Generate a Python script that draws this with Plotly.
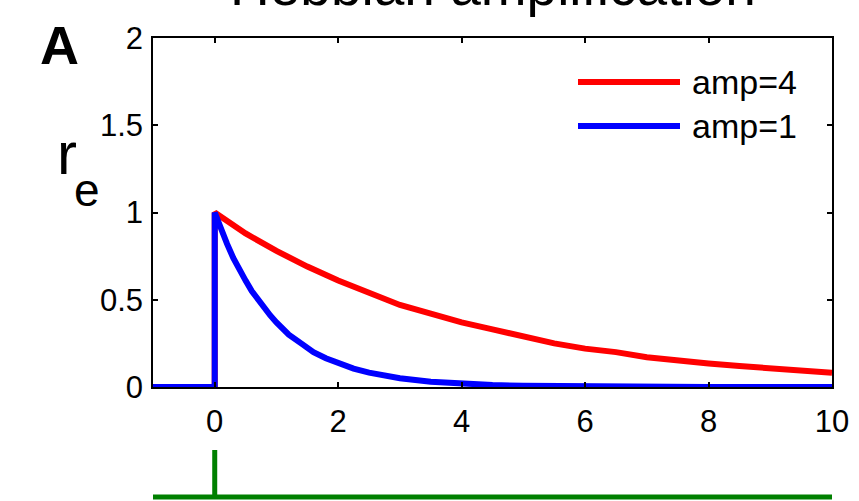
import plotly.graph_objects as go

# ---- data ----
t_amp1 = [-1, 0, 0, 0.1, 0.2, 0.3, 0.4, 0.5, 0.6, 0.7, 0.8, 0.9, 1, 1.2, 1.4, 1.6, 1.8, 2,
          2.25, 2.5, 2.75, 3, 3.5, 4, 4.5, 5, 6, 7, 8, 10]
r_amp1 = [0, 0, 1, 0.905, 0.82, 0.74, 0.67, 0.61, 0.55, 0.50, 0.45, 0.41, 0.37, 0.30, 0.25,
          0.20, 0.165, 0.135, 0.105, 0.082, 0.064, 0.05, 0.03, 0.018, 0.011, 0.007, 0.0025,
          0.001, 0.0003, 0]

t_amp4 = [-1, 0, 0, 0.5, 1, 1.5, 2, 2.5, 3, 3.5, 4, 4.5, 5, 5.5, 6, 6.5, 7, 7.5, 8, 8.5, 9,
          9.5, 10]
r_amp4 = [0, 0, 1, 0.88, 0.78, 0.69, 0.61, 0.54, 0.47, 0.42, 0.37, 0.33, 0.29, 0.25, 0.22,
          0.20, 0.17, 0.15, 0.135, 0.12, 0.105, 0.093, 0.082]

t_input = [-1, 0, 0, 0, 10]
v_input = [0, 0, 1, 0, 0]

x_ticks = [0, 2, 4, 6, 8, 10]
y_ticks = [0, 0.5, 1, 1.5, 2]
y_ticktext = ["0", "0.5", "1", "1.5", "2"]

legend_labels = ["amp=4", "amp=1"]

# ---- layout geometry ----
W, H = 859, 501
ML, MR, MT, MB = 153, 27, 38, 0
PW, PH = W - ML - MR, H - MT - MB


def px_x(px):
    return (px - ML) / PW


def px_y(py):
    return (H - MB - py) / PH


FONT = "Liberation Sans, Arial, Helvetica, sans-serif"
RED = "#ff0000"
BLUE = "#0000ff"
GREEN = "#008000"

fig = go.Figure()
fig.add_trace(go.Scatter(x=t_amp4, y=r_amp4, mode="lines", line=dict(color=RED, width=6),
                         showlegend=False, xaxis="x", yaxis="y"))
fig.add_trace(go.Scatter(x=t_amp1, y=r_amp1, mode="lines", line=dict(color=BLUE, width=6),
                         showlegend=False, xaxis="x", yaxis="y"))
fig.add_trace(go.Scatter(x=t_input, y=v_input, mode="lines", line=dict(color=GREEN, width=5),
                         showlegend=False, xaxis="x2", yaxis="y2", cliponaxis=False))

main_bottom = px_y(387)
fig.update_layout(
    template="none",
    width=W, height=H, autosize=False,
    margin=dict(l=ML, r=MR, t=MT, b=MB, pad=0, autoexpand=False),
    paper_bgcolor="white", plot_bgcolor="white",
    font=dict(family=FONT, color="black", size=31),
    xaxis=dict(domain=[0, 1], range=[-1, 10], tickvals=x_ticks, ticks="inside", ticklen=5,
               tickwidth=1.5, tickcolor="black", showline=True, linecolor="black", linewidth=1.5,
               mirror="ticks", showgrid=False, zeroline=False, anchor="y", automargin=False,
               tickfont=dict(size=31, family=FONT), ticklabelstandoff=6),
    yaxis=dict(domain=[main_bottom, 1], range=[0, 2], tickvals=y_ticks, ticktext=y_ticktext,
               ticks="inside", ticklen=5, tickwidth=1.5, tickcolor="black", showline=True,
               linecolor="black", linewidth=1.5, mirror="ticks", showgrid=False, zeroline=False,
               anchor="x", automargin=False, tickfont=dict(size=31, family=FONT),
               ticklabelstandoff=2),
    xaxis2=dict(domain=[0, 1], range=[-1, 10], visible=False, anchor="y2", automargin=False),
    yaxis2=dict(domain=[0, px_y(450)], range=[-0.085, 1], visible=False, anchor="x2",
                automargin=False),
    showlegend=False,
)

annotations = [
    dict(text="Hebbian amplification", x=px_x(493), y=px_y(-14), xref="paper", yref="paper",
         xanchor="center", yanchor="middle", showarrow=False,
         font=dict(size=55, family=FONT, color="black")),
    dict(text="<b>A</b>", x=px_x(60), y=px_y(45), xref="paper", yref="paper",
         xanchor="center", yanchor="middle", showarrow=False,
         font=dict(size=54, family=FONT, color="black")),
    dict(text="r", x=px_x(67), y=px_y(153), xref="paper", yref="paper",
         xanchor="center", yanchor="middle", showarrow=False,
         font=dict(size=60, family=FONT, color="black")),
    dict(text="e", x=px_x(87), y=px_y(190), xref="paper", yref="paper",
         xanchor="center", yanchor="middle", showarrow=False,
         font=dict(size=46, family=FONT, color="black")),
]
shapes = []
for label, color, py in zip(legend_labels, [RED, BLUE], [82, 126]):
    shapes.append(dict(type="line", xref="paper", yref="paper", x0=px_x(578), x1=px_x(680),
                       y0=px_y(py), y1=px_y(py), line=dict(color=color, width=6)))
    annotations.append(dict(text=label, x=px_x(690), y=px_y(py), xref="paper", yref="paper",
                            xanchor="left", yanchor="middle", showarrow=False,
                            font=dict(size=34, family=FONT, color="black")))

fig.update_layout(annotations=annotations, shapes=shapes)
fig.write_html(
    "out.html",
    config={"displayModeBar": False},
    post_script="document.documentElement.style.margin='0';document.body.style.margin='0';"
                "document.body.style.overflow='hidden';",
)
